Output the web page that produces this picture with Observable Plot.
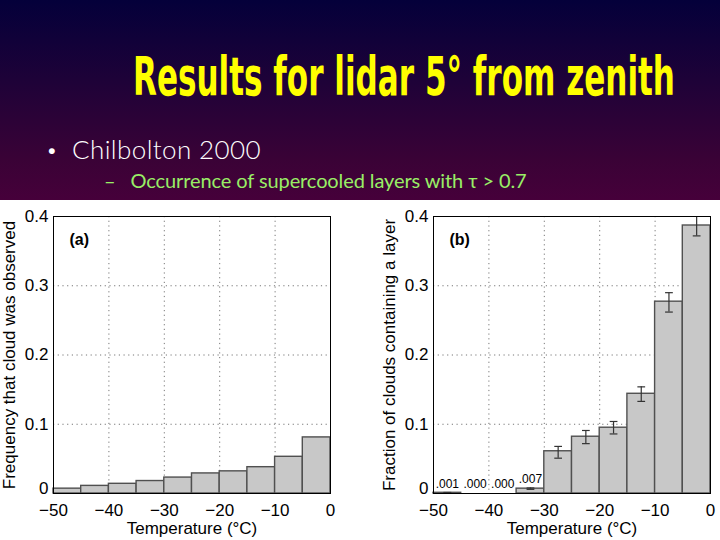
<!DOCTYPE html>
<html>
<head>
<meta charset="utf-8">
<script src="https://cdn.jsdelivr.net/npm/d3@7"></script>
<script src="https://cdn.jsdelivr.net/npm/@observablehq/plot@0.6"></script>
<style>
  html, body { margin: 0; padding: 0; }
  body {
    width: 720px; height: 540px; position: relative; overflow: hidden;
    background: linear-gradient(to bottom, #04003a 0px, #1e0238 80px, #3a0236 160px, #46003a 200px, #ffffff 200px);
  }
  #title { position: absolute; left: 0; top: 30px; width: 720px; height: 80px; overflow: visible; }
  #bullet { position: absolute; left: 46px; top: 132px; font-family: Lato, "Open Sans", sans-serif; font-size: 26px; font-weight: 300; color: #ffffff; line-height: 34px; letter-spacing: 0.4px; }
  #bullet .dot { display: inline-block; width: 26px; font-size: 20px; vertical-align: top; }
  #sub { position: absolute; left: 104px; top: 168px; font-family: Lato, "Open Sans", sans-serif; font-size: 20px; color: #99ee66; letter-spacing: -0.1px; }
  #plotA { position: absolute; left: 0; top: 200px; }
  #plotB { position: absolute; left: 380px; top: 200px; }
</style>
</head>
<body>
<svg id="title" width="720" height="80">
  <text x="133" y="32.5" transform="scale(1,2)" textLength="542" lengthAdjust="spacingAndGlyphs" fill="#ffff00"
        font-family="'DejaVu Sans Condensed', 'Liberation Sans Narrow', sans-serif" font-weight="bold" font-size="27">Results for lidar 5° from zenith</text>
</svg>
<div id="bullet"><span class="dot">•</span>Chilbolton 2000</div>
<div id="sub">–&nbsp;&nbsp; Occurrence of supercooled layers with τ &gt; 0.7</div>
<div id="plotA"></div>
<div id="plotB"></div>
<script>
// Bin lower edges (°C), 5-degree bins
const binStart = [-50, -45, -40, -35, -30, -25, -20, -15, -10, -5];
// (a) Frequency that cloud was observed
const freqObserved = [0.007, 0.011, 0.014, 0.018, 0.023, 0.029, 0.032, 0.038, 0.053, 0.081];
// (b) Fraction of clouds containing a layer, with error bounds
const fracLayer = [0.001, 0.000, 0.000, 0.007, 0.061, 0.082, 0.095, 0.144, 0.277, 0.387];
const errLow  = [0.0005, 0.000, 0.000, 0.006, 0.051, 0.072, 0.086, 0.133, 0.262, 0.372];
const errHigh = [0.0015, 0.000, 0.000, 0.008, 0.068, 0.091, 0.104, 0.154, 0.290, 0.402];
// Labels printed above small bars in (b)
const smallLabels = [".001", ".000", ".000", ".007", "", "", "", "", "", ""];
const xTicks = [-50, -40, -30, -20, -10, 0];
const yTicksUpper = [0.1, 0.2, 0.3, 0.4];
const yTickZero = [0];
const gridX = [-40, -30, -20, -10];
const gridY = [0.1, 0.2, 0.3];
const binWidth = 5;

const rowsA = binStart.map((b, i) => ({x1: b, x2: b + binWidth, y: freqObserved[i]}));
const rowsB = binStart.map((b, i) => ({x1: b, x2: b + binWidth, c: b + binWidth / 2, y: fracLayer[i], lo: errLow[i], hi: errHigh[i], label: smallLabels[i]}));
const errRows = rowsB.filter(d => d.hi > d.lo);
const capHalf = 0.7;

function base(opts) {
  return {
    width: opts.width, height: 340,
    marginLeft: 53, marginRight: opts.marginRight, marginTop: 16, marginBottom: 47,
    style: {fontFamily: "'Liberation Sans', Arial, sans-serif", fontSize: "17px", color: "#000", background: "transparent", overflow: "visible"},
    x: {domain: [-50, 0], ticks: xTicks},
    y: {domain: [0, 0.4]}
  };
}

function commonMarks(ylabel, panel) {
  return [
    Plot.gridX(gridX, {stroke: "#777", strokeOpacity: 1, strokeDasharray: "1.2,3.5"}),
    Plot.gridY(gridY, {stroke: "#777", strokeOpacity: 1, strokeDasharray: "1.2,3.5"}),
    Plot.axisX({ticks: xTicks, tickSize: 0, tickPadding: 10, tickFormat: d => d === 0 ? "0" : d3.format("d")(d).replace("-", "\u2212"), fontSize: 17,
      label: "Temperature (°C)", labelAnchor: "center", labelArrow: "none", labelOffset: 40}),
    Plot.axisY({ticks: yTicksUpper, tickSize: 0, tickPadding: 5, tickFormat: d => d.toFixed(1), fontSize: 17,
      label: ylabel, labelAnchor: "center", labelArrow: "none", labelOffset: 51}),
    Plot.axisY({ticks: yTickZero, tickSize: 0, tickPadding: 5, tickFormat: () => "0", fontSize: 17, dy: -5, label: null}),
    Plot.text([panel], {frameAnchor: "top-left", dx: 16, dy: 17, text: d => d, fontWeight: "bold", fontSize: 16, textAnchor: "start"})
  ];
}

const plotA = Plot.plot({
  ...base({width: 360, marginRight: 30}),
  marks: [
    ...commonMarks("Frequency that cloud was observed", "(a)"),
    Plot.rectY(rowsA, {x1: "x1", x2: "x2", y: "y", fill: "#c8c8c8", stroke: "#505050", strokeWidth: 1.4}),
    Plot.frame({stroke: "#000", strokeWidth: 1})
  ]
});
document.getElementById("plotA").appendChild(plotA);

const plotB = Plot.plot({
  ...base({width: 340, marginRight: 10}),
  marks: [
    ...commonMarks("Fraction of clouds containing a layer", "(b)"),
    Plot.rectY(rowsB, {x1: "x1", x2: "x2", y: "y", fill: "#c8c8c8", stroke: "#505050", strokeWidth: 1.4}),
    Plot.ruleX(errRows, {x: "c", y1: "lo", y2: "hi", stroke: "#333", strokeWidth: 1.2, clip: true}),
    Plot.link(errRows, {x1: d => d.c - capHalf, x2: d => d.c + capHalf, y1: "lo", y2: "lo", stroke: "#333", strokeWidth: 1.2, clip: true}),
    Plot.link(errRows, {x1: d => d.c - capHalf, x2: d => d.c + capHalf, y1: "hi", y2: "hi", stroke: "#333", strokeWidth: 1.2, clip: true}),
    Plot.text(rowsB.filter(d => d.label), {x: "c", y: "y", text: "label", dy: -9, fontSize: 12}),
    Plot.frame({stroke: "#000", strokeWidth: 1})
  ]
});
document.getElementById("plotB").appendChild(plotB);
</script>
</body>
</html>
